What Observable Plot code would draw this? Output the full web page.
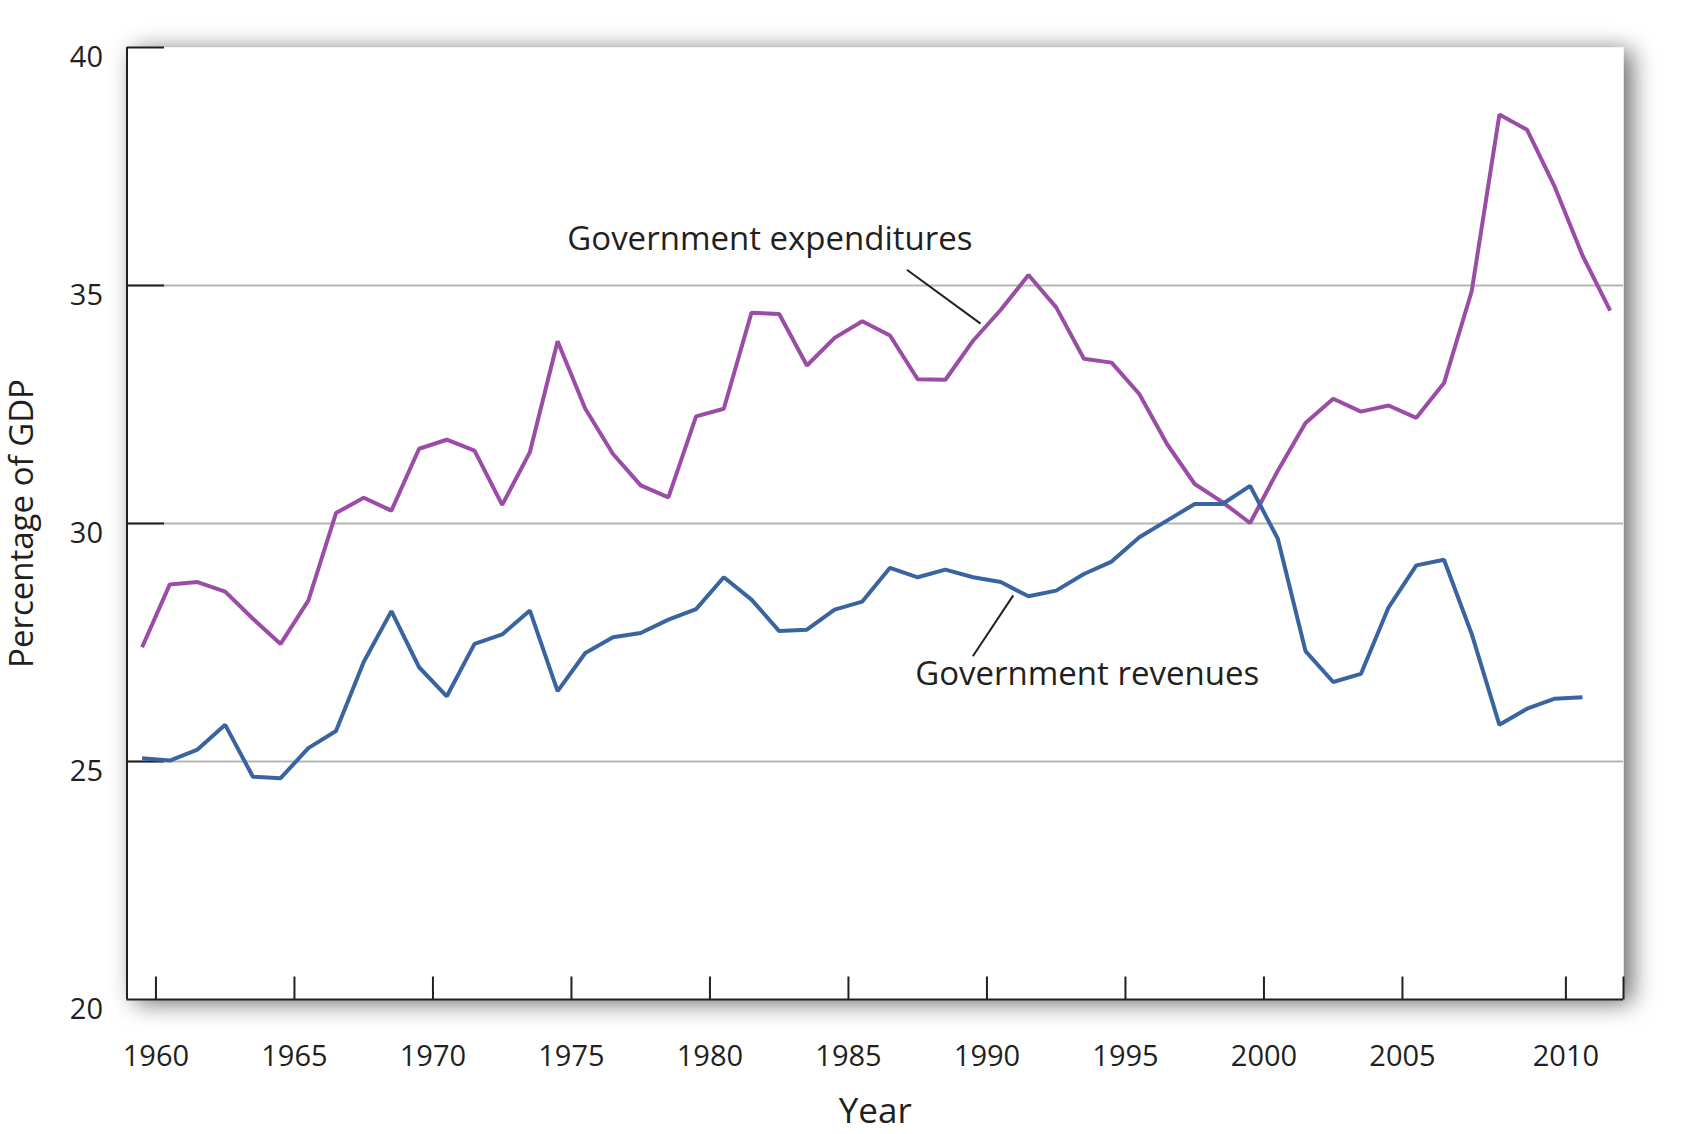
<!DOCTYPE html>
<html>
<head>
<meta charset="utf-8">
<script src="https://cdn.jsdelivr.net/npm/d3@7"></script>
<script src="https://cdn.jsdelivr.net/npm/@observablehq/plot@0.6"></script>
<style>
  html, body { margin: 0; padding: 0; background: #ffffff; }
  #chart svg { display: block; }
</style>
</head>
<body>
<div id="chart"></div>
<script>
// ---- Data (percentage of GDP), one value per year starting 1960 ----
const startYear = 1960;
const expenditures = [27.40, 28.72, 28.77, 28.57, 28.00, 27.47, 28.38, 30.22, 30.54, 30.27,
  31.57, 31.76, 31.53, 30.39, 31.50, 33.83, 32.41, 31.46, 30.80, 30.55,
  32.25, 32.41, 34.43, 34.40, 33.32, 33.90, 34.25, 33.95, 33.03, 33.02,
  33.84, 34.49, 35.22, 34.54, 33.46, 33.38, 32.72, 31.67, 30.83, 30.45,
  30.01, 31.11, 32.11, 32.62, 32.35, 32.48, 32.22, 32.95, 34.88, 38.59,
  38.27, 37.07, 35.63, 34.47];
const revenues = [25.07, 25.02, 25.25, 25.77, 24.68, 24.65, 25.28, 25.64, 27.09, 28.16,
  26.98, 26.37, 27.47, 27.67, 28.17, 26.48, 27.28, 27.61, 27.70, 27.98,
  28.20, 28.87, 28.40, 27.74, 27.77, 28.19, 28.36, 29.07, 28.87, 29.03,
  28.87, 28.77, 28.47, 28.59, 28.94, 29.20, 29.71, 30.06, 30.41, 30.41,
  30.79, 29.68, 27.32, 26.67, 26.84, 28.24, 29.12, 29.24, 27.68, 25.77,
  26.11, 26.32, 26.35];

// ---- Axis ticks ----
const yTickValues = [40, 35, 30, 25, 20];
const gridValues = [35, 30, 25];
const xTickLabels = [1960, 1965, 1970, 1975, 1980, 1985, 1990, 1995, 2000, 2005, 2010];
// In the original, year ticks sit half a year right of the data points (2010 drawn further right)
const xTickPlace = y => y === 2010 ? y + 1.4 : y + 0.5;

// ---- Annotations ----
const labels = [
  {year: 1975.35, value: 35.97, text: "Government expenditures"},
  {year: 1987.91, value: 26.82, text: "Government revenues"}
];
const leaders = [
  {x1: 1987.61, y1: 35.33, x2: 1990.27, y2: 34.20},
  {x1: 1991.45, y1: 28.49, x2: 1989.99, y2: 27.21}
];

const expData = expenditures.map((v, i) => ({year: startYear + i, value: v}));
const revData = revenues.map((v, i) => ({year: startYear + i, value: v}));

const purple = "#9a4ca6";
const blue = "#3a64a0";
const ink = "#231f20";
const xDomain = [1959.455, 2013.48];
const tickShape = {draw(ctx, l) { ctx.moveTo(0, 0); ctx.lineTo(0, -l); }};

const chart = Plot.plot({
  width: 1681,
  height: 1134,
  marginLeft: 126.5,
  marginRight: 58,
  marginTop: 47,
  marginBottom: 135,
  style: {fontFamily: "'Open Sans', sans-serif", color: ink, background: "transparent", overflow: "visible"},
  x: {domain: xDomain, axis: null},
  y: {domain: [20, 40], axis: null},
  marks: [
    Plot.frame({fill: "white", stroke: null}),
    Plot.ruleY(gridValues, {stroke: "#b5b5b5", strokeWidth: 2}),
    // y axis line and ticks (inward)
    Plot.ruleX([xDomain[0]], {stroke: ink, strokeWidth: 2}),
    Plot.vector(yTickValues.slice(0, 4), {x: xDomain[0], y: d => d, length: 37, rotate: 90, anchor: "start", stroke: ink, strokeWidth: 2, strokeLinecap: "butt", shape: tickShape}),
    Plot.axisY(yTickValues, {anchor: "left", tickSize: 0, tickPadding: 24, dy: 10, fontSize: 29, label: null, fill: ink}),
    // x axis line and ticks (inward)
    Plot.ruleY([20], {stroke: ink, strokeWidth: 2}),
    Plot.vector(xTickLabels.map(xTickPlace).concat([xDomain[1]]), {x: d => d, y: 20, length: 23, rotate: 0, anchor: "start", stroke: ink, strokeWidth: 2, strokeLinecap: "butt", shape: tickShape}),
    Plot.axisX(xTickLabels.map(xTickPlace), {anchor: "bottom", tickSize: 0, tickPadding: 46, fontSize: 29, label: null, fill: ink,
      tickFormat: d => String(xTickLabels.find(y => Math.abs(xTickPlace(y) - d) < 1e-6))}),
    // axis titles
    Plot.text(["Year"], {frameAnchor: "bottom", dy: 123, fontSize: 35, fill: ink}),
    Plot.text(["Percentage of GDP"], {frameAnchor: "left", textAnchor: "middle", lineAnchor: "middle", dx: -105, rotate: -90, fontSize: 33, fill: ink}),
    // series
    Plot.line(expData, {x: "year", y: "value", stroke: purple, strokeWidth: 4, strokeLinejoin: "miter", strokeLinecap: "butt"}),
    Plot.line(revData, {x: "year", y: "value", stroke: blue, strokeWidth: 4, strokeLinejoin: "miter", strokeLinecap: "butt"}),
    // annotations
    Plot.link(leaders, {x1: "x1", y1: "y1", x2: "x2", y2: "y2", stroke: ink, strokeWidth: 2}),
    Plot.text(labels, {x: "year", y: "value", text: "text", textAnchor: "start", fontSize: 33, fill: ink})
  ]
});

// drop shadow around the plot panel
const svg = chart;
const ns = "http://www.w3.org/2000/svg";
const defs = document.createElementNS(ns, "defs");
defs.innerHTML = '<filter id="panelShadow" x="-8%" y="-8%" width="116%" height="116%">' +
  '<feDropShadow dx="8" dy="3" stdDeviation="12" flood-color="#000" flood-opacity="0.6"/></filter>';
svg.insertBefore(defs, svg.firstChild);
const frameRect = svg.querySelector('g[aria-label="frame"] rect') || svg.querySelector('rect');
if (frameRect) frameRect.setAttribute("filter", "url(#panelShadow)");

document.getElementById("chart").appendChild(chart);
</script>
</body>
</html>
